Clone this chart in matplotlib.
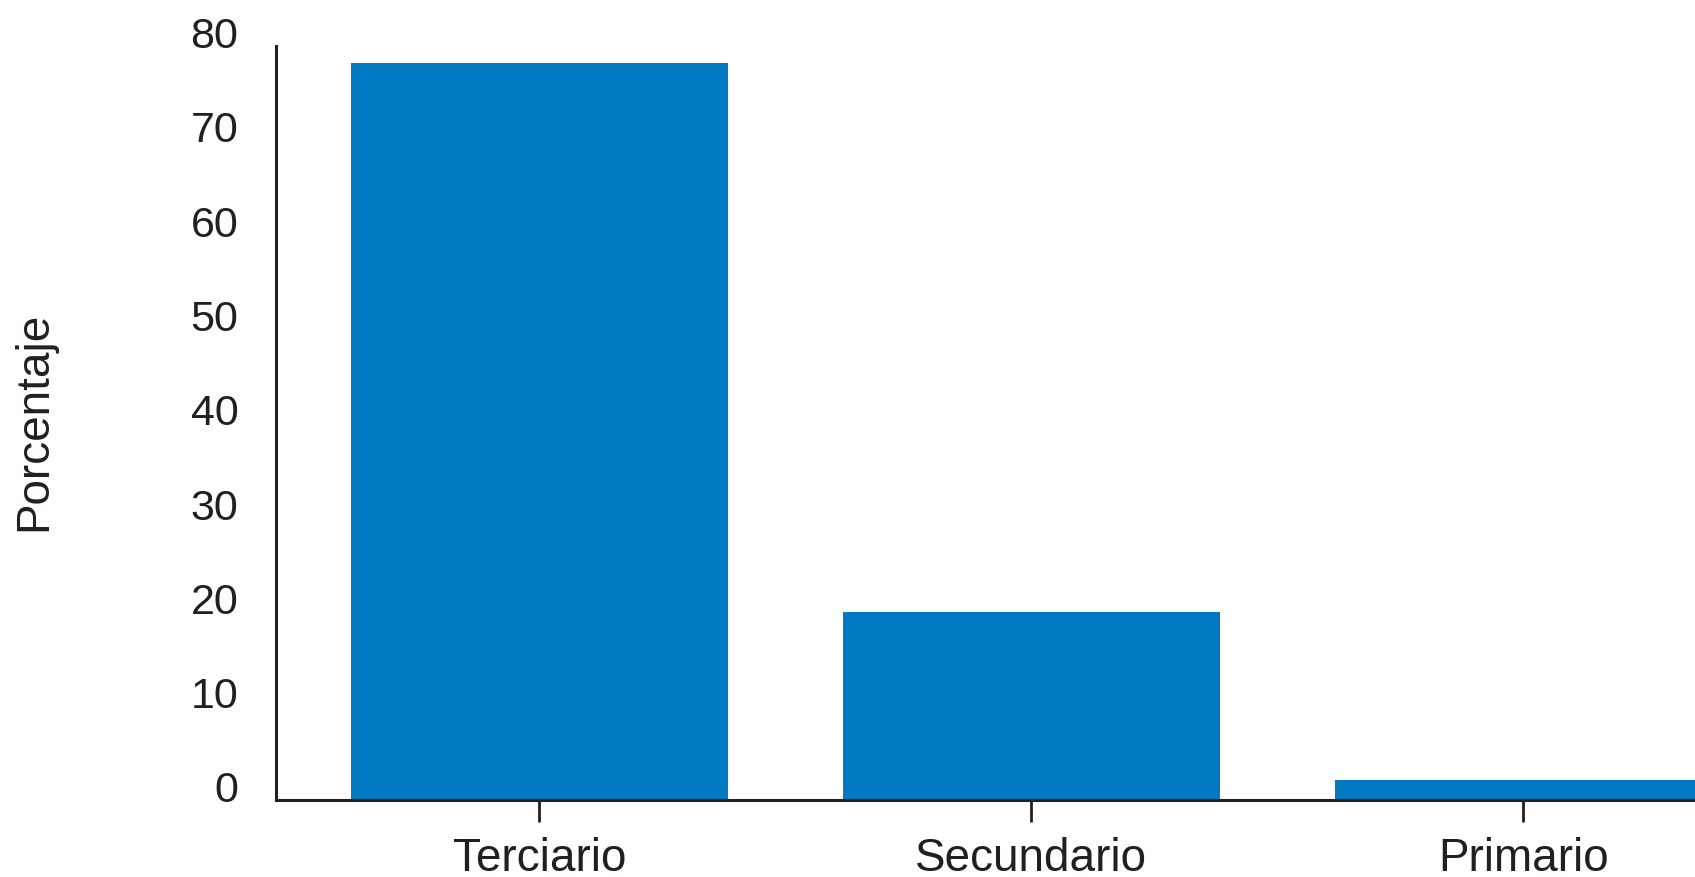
import matplotlib
matplotlib.use('Agg')
import matplotlib.pyplot as plt
import matplotlib.transforms as mtransforms

# ==== Datos ====
sectores = ['Terciario', 'Secundario', 'Primario']
porcentajes = [78.2, 19.9, 2.1]
yticks = [0, 10, 20, 30, 40, 50, 60, 70, 80]

BAR_COLOR = '#007ac2'
INK = '#231f20'

plt.rcParams.update({
    'font.family': ['Liberation Sans', 'DejaVu Sans'],
    'font.size': 32,
    'text.color': INK,
    'axes.edgecolor': INK,
    'xtick.color': INK,
    'ytick.color': INK,
})

fig = plt.figure(figsize=(16.95, 8.77), dpi=100, facecolor='white')
ax = fig.add_axes([0.1627, 0.0878, 1 - 0.1627, 0.948 - 0.0878])

x = list(range(len(sectores)))
ax.bar(x, porcentajes, width=0.765, color=BAR_COLOR, zorder=1)

ax.set_xlim(-0.536, 2.349)
ax.set_ylim(0, 80)
ax.set_xticks(x)
ax.set_xticklabels(sectores)
ax.set_yticks(yticks)

for side in ['top', 'right']:
    ax.spines[side].set_visible(False)
for side in ['left', 'bottom']:
    ax.spines[side].set_linewidth(2.2)
    ax.spines[side].set_zorder(3)

ax.tick_params(axis='x', length=16, width=2.0, pad=11, labelsize=33)
ax.tick_params(axis='y', length=0, pad=27, labelsize=31)

# tick labels of y sit a bit above their values
offset = mtransforms.ScaledTranslation(0, 0.13, fig.dpi_scale_trans)
for lab in ax.get_yticklabels():
    lab.set_transform(lab.get_transform() + offset)

fig.text(34 / 1695, 1 - 421 / 877, 'Porcentaje', rotation=90,
         ha='center', va='center', fontsize=33, color=INK)

fig.savefig('out.png', dpi=100, facecolor='white')
